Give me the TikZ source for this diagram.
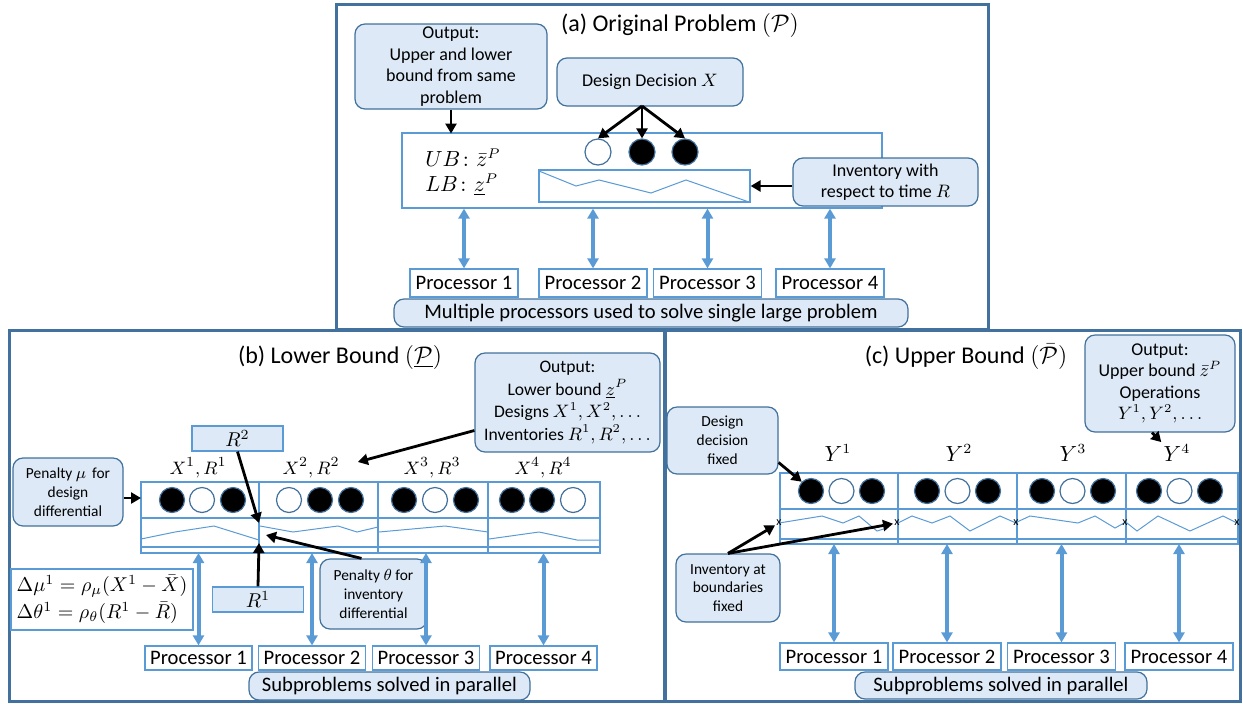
\documentclass[tikz,border=0pt]{standalone}
\usepackage{amsmath}
\usepackage{amssymb}
\usepackage{fontspec}
\setmainfont{Carlito}
\usepackage{tikz}
\usetikzlibrary{arrows.meta,shapes,positioning}
\definecolor{pnblue}{RGB}{65,113,156}
\definecolor{lnblue}{RGB}{91,155,213}
\definecolor{bxblue}{RGB}{221,233,246}
\tikzstyle{panel} = [draw=pnblue, line width=1.5pt]
\tikzstyle{notebox} = [draw=pnblue, fill=bxblue, rounded corners=5pt, line width=0.6pt, align=center, inner sep=0pt]
\tikzstyle{plainbox} = [draw=lnblue, fill=white, line width=0.6pt, inner sep=0pt]
\tikzstyle{rtag} = [draw=lnblue, fill=bxblue, line width=0.6pt, inner sep=0pt, minimum width=45.5pt, minimum height=12.5pt, font=\fontsize{10}{12}\selectfont]
\tikzstyle{cell} = [draw=lnblue, line width=0.6pt]
\tikzstyle{inv} = [lnblue, line width=0.5pt]
\tikzstyle{dotfull} = [circle, draw=pnblue, fill=black, line width=0.6pt, minimum size=12.5pt, inner sep=0pt]
\tikzstyle{dotopen} = [circle, draw=pnblue, fill=white, line width=0.6pt, minimum size=12.5pt, inner sep=0pt]
\tikzstyle{link} = [line width=1.4pt, -{Triangle[length=5pt,width=5.5pt]}]
\tikzstyle{biarrow} = [lnblue, line width=2pt, {Triangle[length=5pt,width=5.5pt]}-{Triangle[length=5pt,width=5.5pt]}]
\tikzstyle{proc} = [plainbox, minimum width=54pt, minimum height=14pt, font=\fontsize{10.3}{12}\selectfont]
\tikzstyle{txtsmall} = [font=\fontsize{7.7}{9.4}\selectfont]
\tikzstyle{txtmid} = [font=\fontsize{9}{10.8}\selectfont]
\tikzstyle{txtbig} = [font=\fontsize{10.3}{12}\selectfont]
\tikzstyle{title} = [font=\fontsize{12}{14}\selectfont, inner sep=1pt]
\tikzstyle{lbl} = [font=\fontsize{9.5}{11}\selectfont, inner sep=1pt]
\tikzstyle{xmark} = [font=\fontsize{6}{6}\selectfont, inner sep=0.5pt]

\begin{document}
\begin{tikzpicture}[x=0.5pt, y=-0.5pt]
\useasboundingbox (0,0) rectangle (1243,703);
% Panels
\draw[panel] (336,4) rectangle (988,329);
\draw[panel] (9,330) rectangle (664,701);
\draw[panel] (665,330) rectangle (1240,701);

% (a) Original problem
\node[title] (titlea) at (680,25) {(a) Original Problem $(\mathcal{P})$};
\node[plainbox, minimum width=240pt, minimum height=37.5pt] (biga) at (642,170.5) {};
\node[plainbox, minimum width=105.5pt, minimum height=16pt] (inva) at (644.5,186) {};
\draw[inv] (539,171) -- (576,186) -- (599,180) -- (651,193) -- (686,180) -- (749,202);
\node[align=left, font=\fontsize{10.5}{12.5}\selectfont] (bounds) at (463,172) {$UB\colon \bar{z}^P$\\$LB\colon \underline{z}^P$};
\node[dotopen, minimum size=13pt] (ca1) at (598,152) {};
\node[dotfull, minimum size=13pt] (ca2) at (642,152) {};
\node[dotfull, minimum size=13pt] (ca3) at (685,152) {};

\node[notebox, txtmid, minimum width=96pt, minimum height=42.5pt] (outa) at (451,66.5) {Output:\\Upper and lower\\bound from same\\problem};
\node[notebox, txtmid, minimum width=93pt, minimum height=24pt] (dd) at (650,82) {Design Decision $X$};
\node[notebox, txtmid, minimum width=92.5pt, minimum height=24pt] (invt) at (885.5,182) {Inventory with\\respect to time $R$};
\coordinate (ddfoot) at (642,106);

\draw[link] (outa.south) -- ([yshift=4pt]outa.south |- bounds.north);
\foreach \c in {ca1,ca2,ca3}
  \draw[link] (ddfoot) -- (\c.north);
\draw[link] (invt.west |- inva.east) -- (inva.east);

\foreach \i/\x in {1/464,2/593,3/707.5,4/830}
  \node[proc] (pa\i) at (\x,283) {Processor \i};
\foreach \i in {1,...,4}
  \draw[biarrow] (pa\i.north) -- (pa\i.north |- biga.south);
\node[notebox, txtbig, minimum width=257pt, minimum height=14pt] (multa) at (651,313) {Multiple processors used to solve single large problem};

% (b) Lower bound
\node[title] (titleb) at (340,357) {(b) Lower Bound $(\underline{\mathcal{P}})$};
\foreach \l/\r in {141/259,259/378,378/488,488/600} {
  \draw[cell] (\l,482) rectangle (\r,518);
  \draw[cell] (\l,518) rectangle (\r,547);
  \draw[cell] (\l,547) rectangle (\r,553);
}
\coordinate (gridb) at (141,553);
\coordinate (gridbw) at (141,498);
\foreach \n/\x/\s in {1/172/dotfull,2/202/dotopen,3/233/dotfull,4/289/dotopen,5/320/dotfull,6/351/dotfull,7/404/dotfull,8/435/dotopen,9/466/dotfull,10/512/dotfull,11/542/dotfull,12/573/dotopen}
  \node[\s] (cb\n) at (\x,500) {};
\draw[inv] (141,539) -- (175,532) -- (214,526) -- (259,540);
\draw[inv] (260,526) -- (293,532) -- (338,526) -- (357,532) -- (378,527);
\draw[inv] (379,532) -- (445,526) -- (488,532);
\draw[inv] (489,539) -- (539,532) -- (577,540) -- (600,540);

\foreach \i/\x in {1/198,2/311,3/432,4/543}
  \node[lbl] (xr\i) at (\x,468) {$X^\i, R^\i$};

\node[notebox, font=\fontsize{8.8}{11.2}\selectfont, minimum width=92.5pt, minimum height=49.5pt] (outb) at (567.5,402.5) {Output:\\Lower bound $\underline{z}^P$\\Designs $X^1, X^2, \ldots$\\Inventories $R^1, R^2, \ldots$};
\node[notebox, txtsmall, minimum width=55pt, minimum height=34pt] (penmu) at (68,492) {Penalty $\mu$\, for\\design\\differential};
\node[notebox, txtsmall, minimum width=53.5pt, minimum height=35pt] (penth) at (373.5,594) {Penalty $\theta$ for\\inventory\\differential};
\node[rtag] (r2) at (237.5,438.5) {$R^2$};
\node[rtag] (r1) at (258,599.5) {$R^1$};
\node[plainbox, align=left, font=\fontsize{10}{13.5}\selectfont, minimum width=91pt, minimum height=30.5pt] (eqb) at (102,599.5) {$\Delta\mu^1 = \rho_\mu(X^1 - \bar{X})$\\$\Delta\theta^1 = \rho_\theta(R^1 - \bar{R})$};
\coordinate (jointop) at (259,523);
\coordinate (joinbot) at (259,543);
\coordinate (joinmid) at (266,535);

\draw[link] ([yshift=-14pt]outb.west) -- ([xshift=8pt,yshift=3pt]xr2.east);
\draw[link] (penmu.east |- gridbw) -- (gridbw);
\draw[link] (r2.south) -- (jointop);
\draw[link] (r1.north) -- (joinbot);
\draw[link] ([xshift=-6pt]penth.north) -- (joinmid);

\foreach \i/\x in {1/198.5,2/312,3/426,4/543.5}
  \node[proc, minimum width=53.5pt, minimum height=12pt] (pb\i) at (\x,658) {Processor \i};
\foreach \i in {1,...,4}
  \draw[biarrow] (pb\i.north) -- (pb\i.north |- gridb);
\node[notebox, txtbig, minimum width=140.5pt, minimum height=14pt] (subb) at (389.5,686) {Subproblems solved in parallel};

% (c) Upper bound
\node[title] (titlec) at (966,357) {(c) Upper Bound $(\bar{\mathcal{P}})$};
\foreach \l/\r in {780/898,898/1017,1017/1126,1126/1238} {
  \draw[cell] (\l,473) rectangle (\r,509);
  \draw[cell] (\l,509) rectangle (\r,539);
  \draw[cell] (\l,539) rectangle (\r,544);
}
\coordinate (gridc) at (780,544);
\foreach \k/\x in {1/811,2/927,3/1042,4/1149} {
  \node[dotfull] (cca\k) at (\x,491) {};
  \node[dotopen] (ccb\k) at (\x+30.5,491) {};
  \node[dotfull] (ccc\k) at (\x+61,491) {};
}
\draw[inv] (779,523) -- (822,516) -- (843,523) -- (859,516) -- (877,531) -- (887,528);
\draw[inv] (898,523) -- (912,516) -- (932,523) -- (950,516) -- (970,531) -- (1000,516) -- (1016,523);
\draw[inv] (1017,522) -- (1030,516) -- (1078,523) -- (1095,516) -- (1115,528) -- (1124,523);
\draw[inv] (1127,523) -- (1137,531) -- (1158,516) -- (1190,531) -- (1223,516) -- (1237,523);
\foreach \i/\x in {0/779,1/897,2/1016,3/1125,4/1237}
  \node[xmark] (xm\i) at (\x,523) {x};

\foreach \i/\x in {1/838,2/959,3/1073,4/1177}
  \node[lbl, font=\fontsize{10.5}{12}\selectfont] (y\i) at (\x,453) {$Y^\i$};

\node[notebox, txtmid, minimum width=75pt, minimum height=48.5pt] (outc) at (1160,383.5) {Output:\\Upper bound $\bar{z}^P$\\Operations\\$Y^1, Y^2, \ldots$};
\node[notebox, txtsmall, minimum width=55.5pt, minimum height=33.5pt] (ddf) at (722.5,440.5) {Design\\decision\\fixed};
\node[notebox, txtsmall, minimum width=52pt, minimum height=34pt] (invb) at (728,588) {Inventory at\\boundaries\\fixed};

\draw[link] ([xshift=-4pt]outc.south) -- (y4.north west);
\draw[link] ([yshift=-11pt]ddf.east) -- (cca1.north west);
\draw[link] (invb.north) -- (xm0);
\draw[link] (invb.north) -- (xm1);

\foreach \i/\x in {1/834,2/947,3/1061.5,4/1179}
  \node[proc, minimum height=13.5pt] (pc\i) at (\x,656.5) {Processor \i};
\foreach \i in {1,...,4}
  \draw[biarrow] (pc\i.north) -- (pc\i.north |- gridc);
\node[notebox, txtbig, minimum width=146pt, minimum height=13.5pt] (subc) at (1001,685.5) {Subproblems solved in parallel};
\end{tikzpicture}
\end{document}
